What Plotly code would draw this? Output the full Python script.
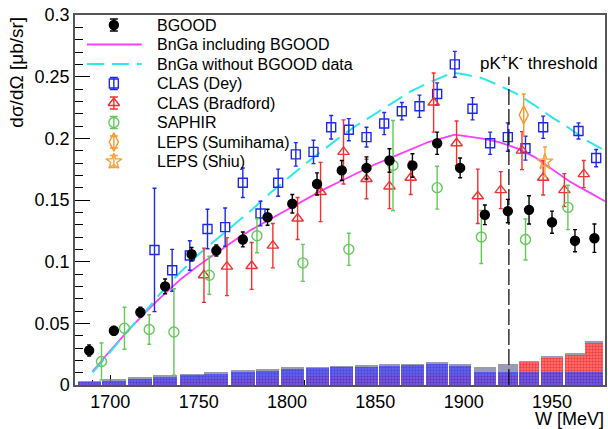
import numpy as np
import plotly.graph_objects as go

# BGOOD K+ Lambda forward cross section
bgood_w = [1688, 1702, 1717, 1731, 1746, 1760, 1775, 1789, 1803, 1817, 1831,
           1845, 1858, 1871, 1885, 1898, 1912, 1925, 1937, 1950, 1963, 1974]
bgood_xs = [0.028, 0.044, 0.059, 0.080, 0.106, 0.109, 0.118, 0.136, 0.147, 0.163, 0.174,
            0.176, 0.182, 0.178, 0.196, 0.176, 0.138, 0.141, 0.142, 0.132, 0.117, 0.119]
bgood_err = [0.0045, 0.0035, 0.004, 0.006, 0.0055, 0.0045, 0.006, 0.0065, 0.0075, 0.009, 0.008,
             0.009, 0.0095, 0.0095, 0.009, 0.008, 0.008, 0.0095, 0.0115, 0.009, 0.009, 0.0115]

# systematic error bands (per BGOOD bin)
sys_total = [0.0030, 0.0045, 0.0062, 0.0078, 0.0093, 0.0102, 0.0118, 0.0127, 0.0142, 0.0150, 0.0158,
             0.0160, 0.0172, 0.0174, 0.0188, 0.0170, 0.0146, 0.0170, 0.0198, 0.0235, 0.0257, 0.0359]
sys_blue = [0.0022, 0.0036, 0.0052, 0.0068, 0.0082, 0.0090, 0.0105, 0.0113, 0.0128, 0.0136, 0.0144,
            0.0146, 0.0158, 0.0160, 0.0172, 0.0155, 0.0108, 0.0108, 0.0108, 0.0108, 0.0108, 0.0108]
sys_red = [0.0012, 0.0020, 0.0028, 0.0036, 0.0044, 0.0048, 0.0055, 0.0060, 0.0066, 0.0070, 0.0074,
           0.0076, 0.0080, 0.0082, 0.0086, 0.0080, 0.0070, 0.0080, 0.0186, 0.0219, 0.0243, 0.0338]

# BnGa fits
fit_w = [1690, 1700, 1710, 1720, 1730, 1740, 1750, 1760, 1770, 1780, 1790, 1800, 1810, 1820, 1830,
         1840, 1850, 1860, 1870, 1880, 1890, 1895, 1900, 1910, 1920, 1930, 1940, 1950, 1960, 1970, 1980]
fit_with = [0.011, 0.028, 0.044, 0.059, 0.073, 0.086, 0.097, 0.107, 0.117, 0.126, 0.134, 0.142, 0.150,
            0.158, 0.165, 0.172, 0.179, 0.185, 0.191, 0.197, 0.201, 0.203, 0.202, 0.200, 0.197, 0.192,
            0.185, 0.175, 0.165, 0.157, 0.149]
fit_without = [0.010, 0.027, 0.044, 0.060, 0.077, 0.092, 0.106, 0.118, 0.130, 0.142, 0.155, 0.167, 0.179,
               0.190, 0.201, 0.211, 0.220, 0.229, 0.238, 0.245, 0.251, 0.253, 0.252, 0.249, 0.243, 0.236,
               0.227, 0.217, 0.208, 0.198, 0.190]

# CLAS (Dey)
dey_w = [1725, 1735, 1745, 1755, 1765, 1775, 1785, 1795, 1805, 1815, 1825, 1835,
         1845, 1855, 1865, 1875, 1885, 1895, 1905, 1915, 1925, 1935, 1945, 1965, 1975]
dey_xs = [0.1095, 0.093, 0.105, 0.1265, 0.128, 0.164, 0.139, 0.164, 0.187, 0.189, 0.209, 0.207,
          0.201, 0.212, 0.222, 0.226, 0.236, 0.260, 0.224, 0.196, 0.201, 0.192, 0.209, 0.206, 0.184]
dey_err = [0.050, 0.017, 0.012, 0.016, 0.0155, 0.012, 0.010, 0.011, 0.0095, 0.0095, 0.0095, 0.009,
           0.008, 0.009, 0.007, 0.009, 0.009, 0.0105, 0.009, 0.009, 0.0115, 0.0097, 0.009, 0.0065, 0.007]

# CLAS (Bradford)
brad_w = [1753, 1766, 1780, 1792, 1806, 1819, 1832, 1845, 1858, 1870, 1883, 1896,
          1908, 1921, 1933, 1945, 1957, 1968]
brad_xs = [0.089, 0.096, 0.0965, 0.113, 0.135, 0.1565, 0.189, 0.167, 0.161, 0.168, 0.229, 0.196,
           0.153, 0.158, 0.190, 0.168, 0.158, 0.171]
brad_err = [0.022, 0.0235, 0.019, 0.018, 0.017, 0.024, 0.026, 0.016, 0.018, 0.0135, 0.024, 0.018,
            0.022, 0.015, 0.0154, 0.014, 0.0134, 0.011]

# SAPHIR
saphir_w = [1695, 1708, 1722, 1736, 1756, 1783, 1809, 1835, 1860, 1885, 1910, 1935, 1959]
saphir_xs = [0.019, 0.046, 0.045, 0.043, 0.089, 0.121, 0.099, 0.110, 0.178, 0.160, 0.120, 0.118, 0.144]
saphir_err = [0.015, 0.017, 0.012, 0.035, 0.0154, 0.0138, 0.015, 0.013, 0.0365, 0.0174, 0.0215, 0.0166, 0.018]

# LEPS
sumihama_w, sumihama_xs, sumihama_err = [1934], [0.219], [0.017]
shiu_w, shiu_xs, shiu_err = [1946], [0.181], [0.012]

threshold_w = 1925.6

FONT = "Liberation Sans, Arial, Helvetica, sans-serif"
MAGENTA = "#ff3cff"
CYAN = "#2ee6f0"

fig = go.Figure()

# systematic histograms
w = np.array(bgood_w, dtype=float)
mid = (w[1:] + w[:-1]) / 2
edges = np.concatenate([[2 * w[0] - mid[0]], mid, [2 * w[-1] - mid[-1]]])
widths = np.diff(edges) * 0.93

fig.add_trace(go.Bar(x=bgood_w, y=sys_total, width=widths, showlegend=False,
                     marker=dict(color="rgba(120,120,155,0.75)", line_width=0)))
fig.add_trace(go.Bar(x=bgood_w, y=sys_red, width=widths, showlegend=False,
                     marker=dict(color="rgb(255,70,70)", line_width=0,
                                 pattern=dict(shape=".", fgcolor="rgb(230,0,0)", bgcolor="rgb(255,120,120)",
                                              size=3, solidity=0.5))))
fig.add_trace(go.Bar(x=bgood_w, y=sys_blue, width=widths, showlegend=False, opacity=0.8,
                     marker=dict(color="rgb(40,40,230)", line_width=0,
                                 pattern=dict(shape=".", fgcolor="rgb(20,20,200)", bgcolor="rgb(90,90,255)",
                                              size=3, solidity=0.5))))

# fits
fig.add_trace(go.Scatter(x=fit_w, y=fit_with, mode="lines", showlegend=False,
                         line=dict(color=MAGENTA, width=1.8)))
fig.add_trace(go.Scatter(x=fit_w, y=fit_without, mode="lines", showlegend=False,
                         line=dict(color=CYAN, width=2, dash="17px,8px")))

# threshold line
fig.add_shape(type="line", x0=threshold_w, x1=threshold_w, y0=0, y1=0.25, xref="x", yref="y",
              line=dict(color="black", width=1.2, dash="16px,4px"))
fig.add_annotation(x=1908, y=0.262, xref="x", yref="y", xanchor="left", yanchor="middle",
                   text="pK<sup>+</sup>K<sup>-</sup> threshold", showarrow=False,
                   font=dict(family=FONT, size=17, color="black"))

datasets = [
    ("CLAS (Dey)", dey_w, dey_xs, dey_err, "rgb(30,40,235)", "square-open", 9),
    ("CLAS (Bradford)", brad_w, brad_xs, brad_err, "rgb(240,50,50)", "triangle-up-open", 10),
    ("SAPHIR", saphir_w, saphir_xs, saphir_err, "rgb(100,200,90)", "circle-open", 10),
    ("LEPS (Sumihama)", sumihama_w, sumihama_xs, sumihama_err, "rgb(250,150,40)", "diamond-tall-open", 13),
    ("LEPS (Shiu)", shiu_w, shiu_xs, shiu_err, "rgb(250,160,60)", "star-open", 12),
    ("BGOOD", bgood_w, bgood_xs, bgood_err, "black", "circle", 9),
]
for name, x, y, err, color, symbol, size in datasets:
    fig.add_trace(go.Scatter(x=x, y=y, mode="markers", name=name, showlegend=False,
                             marker=dict(symbol=symbol, size=size, color=color,
                                         line=dict(color=color, width=1.4)),
                             error_y=dict(type="data", array=err, color=color, thickness=1.4, width=2)))

# legend drawn in pixel space on an overlay axis (x: 75..607, y: 15..385 px)
legend_rows = [
    ("BGOOD", "marker", "black", "circle", 9),
    ("BnGa including BGOOD", "line", MAGENTA, "solid", 0),
    ("BnGa without BGOOD data", "line", CYAN, "17px,8px", 0),
    ("CLAS (Dey)", "marker", "rgb(30,40,235)", "square-open", 9),
    ("CLAS (Bradford)", "marker", "rgb(240,50,50)", "triangle-up-open", 10),
    ("SAPHIR", "marker", "rgb(100,200,90)", "circle-open", 10),
    ("LEPS (Sumihama)", "marker", "rgb(250,150,40)", "diamond-tall-open", 13),
    ("LEPS (Shiu)", "marker", "rgb(250,160,60)", "star-open", 12),
]
row_y0, row_dy = 25, 19.5
for i, (label, kind, color, style, size) in enumerate(legend_rows):
    ry = row_y0 + i * row_dy
    if kind == "line":
        fig.add_trace(go.Scatter(x=[87, 142], y=[ry, ry], mode="lines", xaxis="x2", yaxis="y2",
                                 showlegend=False, hoverinfo="skip",
                                 line=dict(color=color, width=1.8 if style == "solid" else 2, dash=style)))
    else:
        fig.add_trace(go.Scatter(x=[114], y=[ry], mode="markers", xaxis="x2", yaxis="y2",
                                 showlegend=False, hoverinfo="skip",
                                 marker=dict(symbol=style, size=size, color=color,
                                             line=dict(color=color, width=1.4)),
                                 error_y=dict(type="constant", value=6, color=color, thickness=1.4, width=4)))
    fig.add_annotation(x=155, y=ry, xref="x2", yref="y2", xanchor="left", yanchor="middle",
                       text=label, showarrow=False, font=dict(family=FONT, size=16, color="black"))

fig.update_layout(
    width=608, height=429,
    margin=dict(l=75, r=1, t=15, b=44),
    paper_bgcolor="white", plot_bgcolor="white",
    barmode="overlay", bargap=0, showlegend=False,
    font=dict(family=FONT, size=18, color="black"),
    xaxis=dict(range=[1680, 1980], showgrid=False, zeroline=False,
               showline=True, linecolor="#555", linewidth=1.5, mirror=True,
               ticks="inside", ticklen=10, tickcolor="black", dtick=50, tick0=1700,
               minor=dict(ticks="inside", ticklen=5, dtick=10, tickcolor="black"),
               layer="below traces", tickfont=dict(size=18)),
    yaxis=dict(range=[0, 0.3], showgrid=False, zeroline=False,
               showline=True, linecolor="#555", linewidth=1.5, mirror=True,
               ticks="inside", ticklen=15, tickcolor="black", dtick=0.05,
               minor=dict(ticks="inside", ticklen=8, dtick=0.01, tickcolor="black"),
               tickfont=dict(size=18)),
    xaxis2=dict(overlaying="x", range=[75, 607], visible=False, fixedrange=True),
    yaxis2=dict(overlaying="y", range=[385, 15], visible=False, fixedrange=True),
)

fig.add_annotation(x=1.0, y=-0.122, xref="paper", yref="paper", xanchor="right", yanchor="bottom",
                   text="W [MeV]", showarrow=False, borderpad=0, font=dict(family=FONT, size=18))
fig.add_annotation(x=-0.111, y=1.0, xref="paper", yref="paper", xanchor="center", yanchor="top",
                   text="dσ/dΩ [μb/sr]", textangle=-90, showarrow=False, font=dict(family=FONT, size=19))

fig.write_html("out.html", config={"displayModeBar": False},
               post_script="document.body.style.margin='0';")
